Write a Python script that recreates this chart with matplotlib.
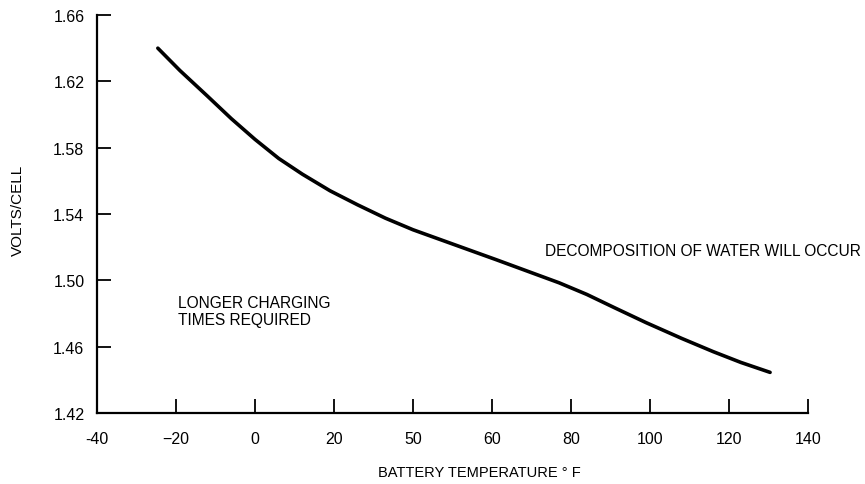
import matplotlib
matplotlib.use("Agg")
import matplotlib.pyplot as plt

plt.rcParams['font.family'] = ['Liberation Sans', 'DejaVu Sans']

# Data
temp_f = [-24.6, -19, -12, -6, 0, 6, 12, 19, 26, 33, 40, 47, 54, 61, 69, 77, 84, 91,
          99, 108, 116, 123, 130.4]
volts = [1.640, 1.6265, 1.611, 1.5975, 1.585, 1.5735, 1.564, 1.554, 1.5455, 1.5375,
         1.5305, 1.5245, 1.5185, 1.5125, 1.5055, 1.4985, 1.4915, 1.4835, 1.4745,
         1.465, 1.457, 1.4505, 1.4445]

xtick_pos = [-40, -20, 0, 20, 40, 60, 80, 100, 120, 140]
xtick_labels = ['-40', '\u221220', '0', '20', '50', '60', '80', '100', '120', '140']
ytick_pos = [1.42, 1.46, 1.50, 1.54, 1.58, 1.62, 1.66]
ytick_labels = ['1.42', '1.46', '1.50', '1.54', '1.58', '1.62', '1.66']

fig = plt.figure(figsize=(8.65, 4.85), dpi=100)
ax = fig.add_axes([97/865, 1-414/485, (808-97)/865, (414-16)/485])

ax.plot(temp_f, volts, color='black', lw=2.6, solid_capstyle='round',
        solid_joinstyle='round')

ax.set_xlim(-40, 140)
ax.set_ylim(1.42, 1.66)
ax.set_xticks(xtick_pos)
ax.set_xticklabels(xtick_labels)
ax.set_yticks(ytick_pos)
ax.set_yticklabels(ytick_labels)

for s in ['top', 'right']:
    ax.spines[s].set_visible(False)
for s in ['left', 'bottom']:
    ax.spines[s].set_linewidth(1.6)

ax.tick_params(axis='x', direction='in', length=10, width=1.3, pad=13, labelsize=11.5)
ax.tick_params(axis='y', direction='in', length=10, width=1.3, pad=9, labelsize=11.5)

fig.text(479/865, 1-473/485, 'BATTERY TEMPERATURE \u00b0 F', ha='center', va='center', fontsize=10.5)
fig.text(18/865, 1-210/485, 'VOLTS/CELL', ha='center', va='center', rotation=90, fontsize=11)

fig.text(178/865, 1-312/485, 'LONGER CHARGING\nTIMES REQUIRED', ha='left', va='center',
         fontsize=11.2, linespacing=1.2)
fig.text(545/865, 1-252/485, 'DECOMPOSITION OF WATER WILL OCCUR', ha='left', va='center',
         fontsize=11.2)

fig.savefig('out.png', dpi=100)
